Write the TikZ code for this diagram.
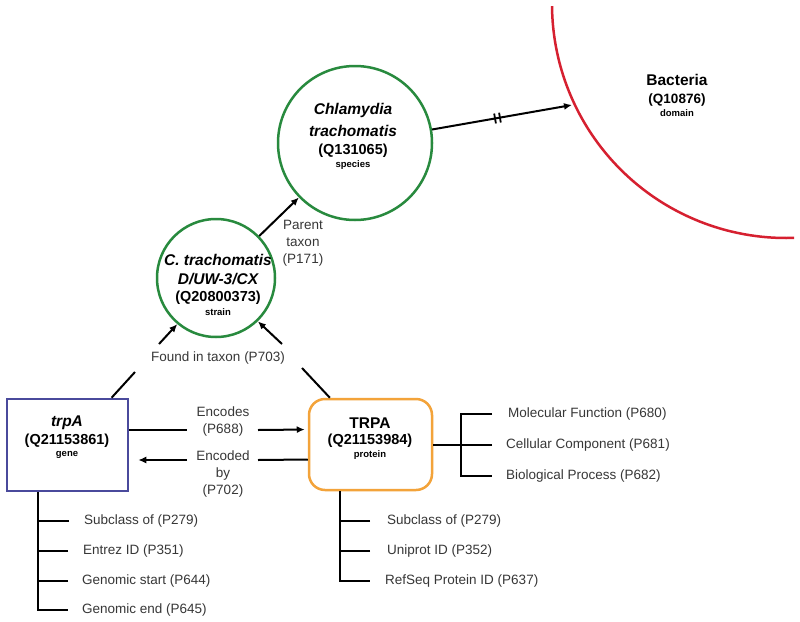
\documentclass[tikz,border=0pt]{standalone}
\usepackage{fontspec}
\setmainfont{Liberation Sans}
\usetikzlibrary{arrows.meta}
\definecolor{cgreen}{RGB}{40,138,62}
\definecolor{cred}{RGB}{214,32,48}
\definecolor{cblue}{RGB}{74,74,156}
\definecolor{corange}{RGB}{243,163,58}
\definecolor{ctext}{RGB}{55,55,55}
\begin{document}
\begin{tikzpicture}[x=1pt,y=-1pt,
  conn/.style={line width=2pt, draw=black},
  arr/.style={conn, -{Latex[length=8pt,width=7pt]}},
  bar/.style={fill=black, inner sep=0pt, minimum width=1.8pt, minimum height=10pt},
  taxon/.style={circle, draw=cgreen, line width=2.5pt, inner sep=0pt},
  lbl/.style={font=\fontsize{13.5pt}{17pt}\selectfont, text=ctext, align=center, inner sep=0pt},
  prop/.style={lbl, anchor=west},
  nmit/.style={font=\fontsize{15.5pt}{18pt}\selectfont\bfseries\itshape, inner sep=0pt},
  nmup/.style={font=\fontsize{15.5pt}{18pt}\selectfont\bfseries, inner sep=0pt},
  qid/.style={font=\fontsize{14.5pt}{17pt}\selectfont\bfseries, inner sep=0pt},
  kind/.style={font=\fontsize{9.5pt}{11pt}\selectfont\bfseries, inner sep=0pt}]
\useasboundingbox (0,0) rectangle (800,621);
\fill[white] (0,0) rectangle (800,621);

% Bacteria (large red circle, partly outside)
\draw[cred, line width=2.5pt] (786,4) ++(179.5:234) arc[start angle=179.5, end angle=88, radius=234];
\coordinate (bacin) at (572,105);
\node[nmup] (bac1) at (677,80) {Bacteria};
\node[qid, font=\fontsize{13.5pt}{16pt}\selectfont\bfseries] (bac2) at (677,100) {(Q10876)};
\node[kind] (bac3) at (677,113) {domain};

% species
\node[taxon, minimum size=154pt] (species) at (355,143) {};
\node[nmit] (sp1) at (353,110) {Chlamydia};
\node[nmit] (sp2) at (353,131) {trachomatis};
\node[qid] (sp3) at (353,151) {(Q131065)};
\node[kind] (sp4) at (353,165) {species};

% strain
\node[taxon, minimum size=118pt] (strain) at (216,278) {};
\node[nmit] (st1) at (218,260) {C. trachomatis};
\node[nmit] (st2) at (218,279) {D/UW-3/CX};
\node[qid] (st3) at (218,298) {(Q20800373)};
\node[kind] (st4) at (218,312) {strain};

% gene
\node[draw=cblue, line width=2.5pt, minimum width=121pt, minimum height=92pt, inner sep=0pt] (gene) at (67.5,445) {};
\node[nmit] (ge1) at (67,423) {trpA};
\node[qid] (ge2) at (67,441) {(Q21153861)};
\node[kind] (ge3) at (67,455) {gene};

% protein
\node[draw=corange, line width=2.5pt, rounded corners=16pt, minimum width=123pt, minimum height=91pt, inner sep=0pt] (protein) at (370.5,444.5) {};
\node[nmup] (pr1) at (370,423) {TRPA};
\node[qid] (pr2) at (370,441) {(Q21153984)};
\node[kind] (pr3) at (370,455) {protein};

% species -> Bacteria
\draw[arr] (species) -- node[pos=0.45, sloped, bar]{} node[pos=0.485, sloped, bar]{} (bacin);

% strain -> species
\draw[arr] (strain) -- (species);
\node[lbl] (ptx) at (303,243) {Parent\\taxon\\(P171)};

% found in taxon
\node[lbl] (fit) at (218,358) {Found in taxon (P703)};
\coordinate (fl1) at (135,372);
\coordinate (fl2) at (159,344);
\coordinate (fr1) at (302,368);
\coordinate (fr2) at (282,344);
\draw[conn] (gene.47) -- (fl1);
\draw[arr] (fl2) -- (strain.230);
\draw[conn] (protein.131) -- (fr1);
\draw[arr] (fr2) -- (strain.314);

% encodes / encoded by
\node[lbl] (enc) at (223,421) {Encodes\\(P688)};
\node[lbl] (encb) at (223,474) {Encoded\\by\\(P702)};
\coordinate (e1) at (187,430);
\coordinate (e2) at (258,430);
\coordinate (b1) at (258,460);
\coordinate (b2) at (187,460);
\draw[conn] ([yshift=15pt]gene.east) -- (e1);
\draw[arr, shorten >=3pt] (e2) -- ([yshift=15pt]protein.west);
\draw[conn] ([yshift=-15pt]protein.west) -- (b1);
\draw[arr, shorten >=9pt] (b2) -- ([yshift=-15pt]gene.east);

% gene properties
\node[prop] (g1) at (84,521) {Subclass of (P279)};
\node[prop] (g2) at (83,551) {Entrez ID (P351)};
\node[prop] (g3) at (82,581) {Genomic start (P644)};
\node[prop] (g4) at (82,610) {Genomic end (P645)};
\draw[conn] (gene.south -| 38,0) |- ([xshift=-14pt]g4.west);
\draw[conn] ([xshift=-15pt]g1.west) -- ++(-31,0);
\draw[conn] ([xshift=-15pt]g2.west) -- ++(-30,0);
\draw[conn] ([xshift=-14pt]g3.west) -- ++(-30,0);

% protein properties below
\node[prop] (p1) at (387,521) {Subclass of (P279)};
\node[prop] (p2) at (387,551) {Uniprot ID (P352)};
\node[prop] (p3) at (385,581) {RefSeq Protein ID (P637)};
\draw[conn] (protein.south -| 340,0) |- ([xshift=-15pt]p3.west);
\draw[conn] ([xshift=-17pt]p1.west) -- ++(-30,0);
\draw[conn] ([xshift=-17pt]p2.west) -- ++(-30,0);

% protein properties right
\node[prop] (r1) at (508,414) {Molecular Function (P680)};
\node[prop] (r2) at (506,445) {Cellular Component (P681)};
\node[prop] (r3) at (506,476) {Biological Process (P682)};
\draw[conn] (protein.east) -- ++(29,0);
\draw[conn] ([xshift=-16pt]r1.west) -- ++(-31,0) |- ([xshift=-14pt]r3.west);
\draw[conn] ([xshift=-14pt]r2.west) -- ++(-31,0);
\end{tikzpicture}
\end{document}
